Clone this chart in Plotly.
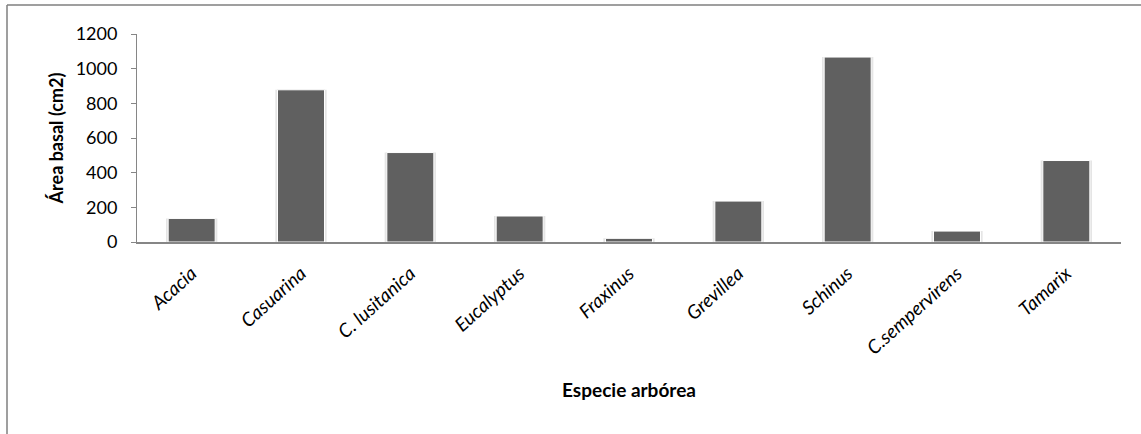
import plotly.graph_objects as go

categories = ["Acacia", "Casuarina", "C. lusitanica", "Eucalyptus", "Fraxinus",
              "Grevillea", "Schinus", "C.sempervirens", "Tamarix"]
values = [136, 878, 516, 150, 21, 236, 1067, 63, 470]
y_ticks = [0, 200, 400, 600, 800, 1000, 1200]

W, H = 1141, 434
L, R, T, B = 137, 20, 34, 192

fig = go.Figure()
fig.add_trace(go.Bar(
    x=categories, y=values, width=0.47,
    marker=dict(color="rgba(0,0,0,0.10)", line=dict(width=0)),
    hoverinfo="skip", showlegend=False,
))
fig.add_trace(go.Bar(
    x=categories, y=values, width=0.43,
    marker=dict(color="#606060", line=dict(color="white", width=1)),
    showlegend=False,
))

pw = W - L - R
ph = H - T - B
def px(x):
    return (x - L) / pw
def py(y):
    return (H - B - y) / ph

fig.update_layout(
    width=W, height=H,
    margin=dict(l=L, r=R, t=T, b=B, autoexpand=False),
    barmode="overlay",
    plot_bgcolor="white", paper_bgcolor="white",
    font=dict(family="Lato", color="black"),
    xaxis=dict(
        showline=True, linecolor="#868686", linewidth=2,
        ticks="", tickangle=-42,
        tickfont=dict(size=19, family="Lato", style="italic"),
        ticklabelstandoff=11,
        title=dict(text="<b>Especie arbórea</b>", font=dict(size=19), standoff=26),
        automargin=False,
    ),
    yaxis=dict(
        range=[0, 1200], tickvals=y_ticks,
        showline=True, linecolor="#868686", linewidth=1,
        ticks="outside", ticklen=5, tickcolor="#868686",
        showgrid=False, zeroline=False,
        tickfont=dict(size=18),
        ticklabelstandoff=10,
        title=dict(text="<b>Área basal (cm2)</b>", font=dict(size=18), standoff=7),
        automargin=False,
    ),
    shapes=[
        dict(type="line", xref="paper", yref="paper",
             x0=px(7), x1=px(7), y0=py(5), y1=py(440),
             line=dict(color="#7f7f7f", width=1.5)),
        dict(type="line", xref="paper", yref="paper",
             x0=px(7), x1=px(1145), y0=py(5), y1=py(5),
             line=dict(color="#7f7f7f", width=1.5)),
    ],
)

fig.write_html("out.html", config={"displayModeBar": False},
               post_script="document.body.style.margin='0px';")
